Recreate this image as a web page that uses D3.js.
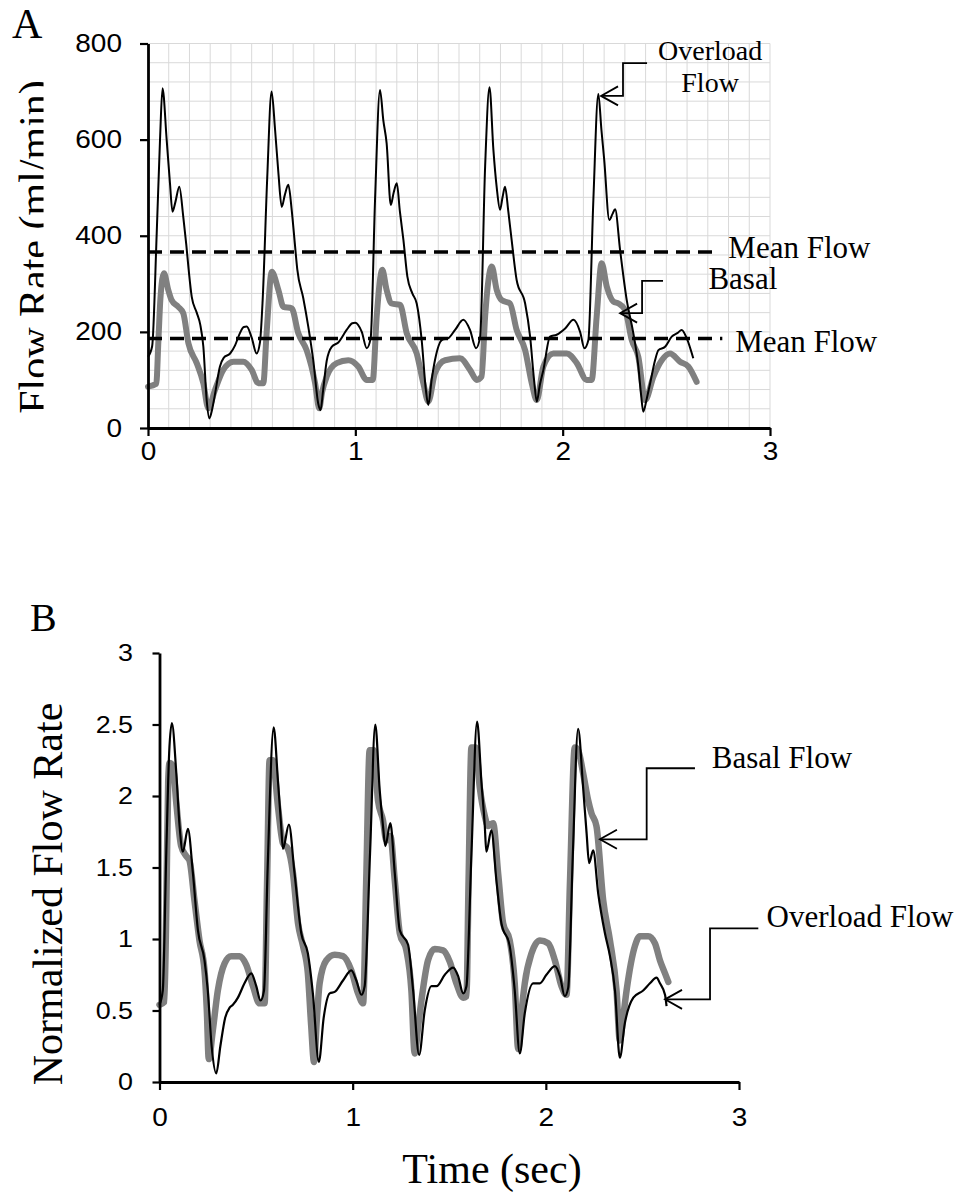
<!DOCTYPE html>
<html>
<head>
<meta charset="utf-8">
<script src="https://cdn.jsdelivr.net/npm/d3@7"></script>
<style>
    body { margin: 0; background: #fff; }
    .serif { font-family: "Liberation Serif", "Times New Roman", serif; fill: #000; }
    .tick text { font-family: "Liberation Sans", Arial, sans-serif; fill: #000; }
</style>
</head>
<body>
<script>
// ---- data: [time (sec), value] ----

// Panel A: absolute flow rate (ml/min)
var overloadA = [
    [0.000,148],[0.020,170],[0.042,405],[0.058,600],[0.070,707],[0.090,600],[0.106,509],[0.118,450],
    [0.132,470],[0.151,502],[0.170,440],[0.185,380],[0.196,330],[0.211,273],[0.235,240],[0.252,215],
    [0.267,169],[0.283,58],[0.296,20],[0.310,40],[0.323,70],[0.347,128],[0.365,146],[0.396,155],
    [0.420,172],[0.444,198],[0.462,210],[0.476,211],[0.500,188],[0.524,155],[0.540,178],[0.553,266],
    [0.575,520],[0.596,700],
    [0.613,620],[0.629,530],[0.645,460],[0.660,485],[0.677,506],[0.693,454],[0.709,380],[0.720,330],
    [0.749,270],[0.773,211],[0.797,141],[0.821,51],[0.832,37],[0.845,80],[0.862,140],[0.886,169],
    [0.918,178],[0.958,204],[0.985,218],[0.999,219],[1.031,200],[1.055,166],[1.074,187],[1.095,474],
    [1.119,703],
    [1.135,640],[1.151,592],[1.171,464],[1.185,490],[1.200,509],[1.215,450],[1.232,391],[1.251,315],
    [1.275,280],[1.296,259],[1.320,183],[1.340,80],[1.352,48],[1.368,100],[1.384,141],[1.417,183],
    [1.449,187],[1.481,204],[1.521,225],[1.553,204],[1.582,166],[1.602,190],[1.626,544],[1.647,709],
    [1.666,578],[1.682,500],[1.698,454],[1.710,480],[1.722,502],[1.738,450],[1.754,391],[1.778,308],
    [1.819,259],[1.843,190],[1.862,100],[1.875,55],[1.890,90],[1.907,121],[1.939,190],[1.971,194],
    [2.012,207],[2.052,225],[2.084,200],[2.105,166],[2.124,183],[2.148,474],[2.172,695],
    [2.187,620],[2.200,560],[2.225,433],[2.240,445],[2.253,455],[2.277,370],[2.309,266],[2.341,197],
    [2.365,128],[2.378,70],[2.389,34],[2.405,60],[2.422,93],[2.445,140],[2.462,162],[2.494,169],
    [2.526,190],[2.555,198],[2.574,204],[2.598,187],[2.630,145]
];

var basalA = [
    [0.000,86],[0.040,92],[0.050,180],[0.060,270],[0.077,322],[0.098,287],[0.114,266],[0.146,252],
    [0.170,239],[0.195,176],[0.235,135],[0.267,93],[0.291,41],[0.323,79],[0.363,121],[0.412,138],
    [0.460,138],[0.500,121],[0.532,93],[0.556,93],[0.572,197],[0.597,325],
    [0.629,287],[0.653,252],[0.693,249],[0.725,197],[0.765,162],[0.806,93],[0.826,41],[0.840,75],
    [0.862,107],[0.910,135],[0.966,141],[1.014,128],[1.055,100],[1.084,100],[1.103,232],[1.130,329],
    [1.151,287],[1.175,259],[1.216,256],[1.248,197],[1.296,155],[1.328,93],[1.352,55],[1.384,114],
    [1.433,141],[1.505,145],[1.553,121],[1.586,100],[1.609,107],[1.626,232],[1.658,336],
    [1.682,287],[1.706,266],[1.746,259],[1.778,204],[1.819,162],[1.851,93],[1.875,58],[1.907,128],
    [1.955,155],[2.020,155],[2.068,135],[2.116,100],[2.140,100],[2.164,232],[2.188,343],
    [2.213,294],[2.245,263],[2.269,259],[2.301,246],[2.333,183],[2.365,148],[2.398,58],[2.438,107],
    [2.478,141],[2.518,155],[2.566,138],[2.606,128],[2.646,96]
];

// mean flow levels (ml/min): overload, basal
var meanFlows = [366, 186];

// Panel B: normalized flow rate
var overloadB = [
    [0.000,0.54],[0.017,0.64],[0.035,1.60],[0.050,2.30],[0.064,2.51],[0.087,2.16],[0.104,1.79],
    [0.121,1.61],[0.147,1.77],[0.173,1.46],[0.199,1.06],[0.233,0.85],[0.250,0.64],[0.270,0.25],
    [0.294,0.06],[0.315,0.25],[0.340,0.45],[0.363,0.52],[0.380,0.54],[0.406,0.59],[0.440,0.69],
    [0.475,0.76],[0.501,0.67],[0.523,0.57],[0.541,0.64],[0.560,1.50],[0.591,2.48],
    [0.613,2.11],[0.630,1.79],[0.639,1.63],[0.670,1.80],[0.699,1.46],[0.734,1.04],[0.768,0.90],
    [0.794,0.62],[0.825,0.14],[0.850,0.45],[0.881,0.62],[0.907,0.63],[0.950,0.71],[0.993,0.78],
    [1.019,0.71],[1.045,0.61],[1.062,0.67],[1.090,1.60],[1.117,2.50],
    [1.140,2.04],[1.157,1.79],[1.169,1.65],[1.195,1.81],[1.218,1.46],[1.244,1.06],[1.287,0.96],
    [1.313,0.64],[1.344,0.19],[1.373,0.50],[1.408,0.67],[1.434,0.67],[1.477,0.75],[1.520,0.80],
    [1.546,0.74],[1.572,0.62],[1.589,0.67],[1.615,1.60],[1.644,2.52],
    [1.667,2.09],[1.684,1.79],[1.692,1.61],[1.718,1.76],[1.744,1.41],[1.770,1.11],[1.813,0.95],
    [1.839,0.64],[1.865,0.20],[1.891,0.48],[1.934,0.69],[1.969,0.69],[2.003,0.75],[2.047,0.81],
    [2.073,0.74],[2.098,0.60],[2.116,0.66],[2.140,1.60],[2.167,2.47],
    [2.193,2.06],[2.211,1.74],[2.224,1.53],[2.245,1.62],[2.271,1.32],[2.306,1.04],[2.332,0.88],
    [2.358,0.64],[2.383,0.17],[2.409,0.41],[2.453,0.59],[2.504,0.64],[2.539,0.69],[2.573,0.73],
    [2.591,0.69],[2.617,0.61],[2.625,0.53]
];

var basalB = [
    [0.000,0.54],[0.025,0.56],[0.035,1.20],[0.045,2.10],[0.052,2.23],[0.069,2.21],[0.087,1.95],
    [0.112,1.65],[0.138,1.58],[0.155,1.55],[0.181,1.27],[0.207,0.99],[0.233,0.78],[0.245,0.50],
    [0.255,0.16],[0.275,0.35],[0.302,0.64],[0.337,0.83],[0.371,0.88],[0.415,0.88],[0.449,0.82],
    [0.484,0.67],[0.518,0.55],[0.544,0.55],[0.557,1.40],[0.570,2.25],[0.587,2.25],
    [0.613,1.93],[0.639,1.67],[0.665,1.63],[0.691,1.46],[0.717,1.11],[0.743,0.95],[0.768,0.76],
    [0.785,0.40],[0.800,0.14],[0.815,0.45],[0.829,0.69],[0.863,0.85],[0.907,0.89],[0.950,0.88],
    [0.993,0.78],[1.028,0.62],[1.054,0.55],[1.070,1.40],[1.088,2.32],[1.109,2.32],
    [1.131,1.97],[1.157,1.83],[1.174,1.69],[1.195,1.72],[1.218,1.41],[1.244,1.04],[1.278,0.92],
    [1.304,0.64],[1.321,0.20],[1.340,0.40],[1.356,0.57],[1.390,0.85],[1.425,0.93],[1.468,0.92],
    [1.503,0.84],[1.537,0.69],[1.572,0.59],[1.589,0.60],[1.600,1.40],[1.615,2.34],[1.637,2.34],
    [1.658,2.06],[1.684,1.86],[1.701,1.79],[1.727,1.81],[1.753,1.46],[1.779,1.11],[1.813,0.99],
    [1.839,0.69],[1.857,0.23],[1.875,0.50],[1.891,0.69],[1.926,0.90],[1.969,0.99],[2.012,0.97],
    [2.047,0.85],[2.081,0.67],[2.107,0.61],[2.125,1.40],[2.150,2.34],[2.167,2.32],
    [2.193,2.16],[2.219,1.97],[2.236,1.88],[2.262,1.79],[2.297,1.27],[2.332,0.99],[2.366,0.64],
    [2.383,0.29],[2.400,0.45],[2.418,0.64],[2.461,0.95],[2.487,1.02],[2.530,1.02],[2.565,0.97],
    [2.591,0.85],[2.617,0.76],[2.634,0.70]
];

// tick labels
var timeTicks = [0, 1, 2, 3];
var flowTicks = [0, 200, 400, 600, 800];
var normTicks = [0, 0.5, 1, 1.5, 2, 2.5, 3];

window.onload = function(){

    var W = 965, H = 1195;
    var sx = 1.12; // tick labels are drawn a little wide in the original

    var svg = d3.select("body")
        .append("svg")
        .attr("width", W)
        .attr("height", H)
        .attr("class", "container");

    var line = function(xs, ys){
        return d3.line()
            .x(function(d){ return xs(d[0]); })
            .y(function(d){ return ys(d[1]); })
            .curve(d3.curveMonotoneX);
    };

    // elbow callout with an open arrow head
    function callout(g, xs, ys, tip, elbowT, topV, endT){
        var pts = [[endT, topV], [elbowT, topV], [elbowT, tip[1]], [tip[0], tip[1]]];
        g.append("path")
            .attr("d", d3.line().x(function(d){ return xs(d[0]); }).y(function(d){ return ys(d[1]); })(pts))
            .style("fill", "none")
            .style("stroke", "#000")
            .style("stroke-width", 1.8);
        var tx = xs(tip[0]), ty = ys(tip[1]);
        g.append("path")
            .attr("d", "M" + (tx + 17) + "," + (ty - 9.5) + "L" + tx + "," + ty + "L" + (tx + 17) + "," + (ty + 9.5))
            .style("fill", "none")
            .style("stroke", "#000")
            .style("stroke-width", 1.8);
    }

    function label(g, xp, yp, txt, size, anchor){
        return g.append("text")
            .attr("class", "serif")
            .attr("x", xp)
            .attr("y", yp)
            .attr("text-anchor", anchor || "start")
            .style("font-size", size + "px")
            .text(txt);
    }

    function styleAxis(ax, fs){
        ax.select(".domain").style("stroke", "#000").style("stroke-width", 2.8);
        ax.selectAll(".tick line").style("stroke", "#000").style("stroke-width", 2.2);
        ax.selectAll(".tick text").style("font-size", fs + "px");
    }

    // ================= Panel A =================
    var xA = d3.scaleLinear().domain([0, 3]).range([148, 770]);
    var yA = d3.scaleLinear().domain([0, 800]).range([428, 43.5]);
    var gA = svg.append("g").attr("class", "panelA");

    // grid
    gA.append("g").attr("class", "gridV")
        .selectAll("line")
        .data(xA.ticks(30).filter(function(d){ return d > 0; }))
        .enter().append("line")
        .attr("x1", function(d){ return xA(d); })
        .attr("x2", function(d){ return xA(d); })
        .attr("y1", yA(0))
        .attr("y2", yA(800))
        .style("stroke", "#d9d9d9")
        .style("stroke-width", 1);

    gA.append("g").attr("class", "gridH")
        .selectAll("line")
        .data(d3.range(40, 801, 40))
        .enter().append("line")
        .attr("x1", xA(0))
        .attr("x2", xA(3))
        .attr("y1", function(d){ return yA(d); })
        .attr("y2", function(d){ return yA(d); })
        .style("stroke", "#d9d9d9")
        .style("stroke-width", 1);

    // curves
    gA.append("path")
        .datum(basalA)
        .attr("d", line(xA, yA))
        .style("fill", "none")
        .style("stroke", "#808080")
        .style("stroke-width", 6)
        .style("stroke-linejoin", "round")
        .style("stroke-linecap", "round");

    gA.append("path")
        .datum(overloadA)
        .attr("d", line(xA, yA))
        .style("fill", "none")
        .style("stroke", "#000")
        .style("stroke-width", 2)
        .style("stroke-linejoin", "round");

    // mean flow dashed lines
    var meanEnds = [2.726, 2.77];
    gA.selectAll(".mean")
        .data(meanFlows)
        .enter().append("line")
        .attr("class", "mean")
        .attr("x1", xA(0))
        .attr("x2", function(d, i){ return xA(meanEnds[i]); })
        .attr("y1", function(d){ return yA(d); })
        .attr("y2", function(d){ return yA(d); })
        .style("stroke", "#000")
        .style("stroke-width", 3.5)
        .style("stroke-dasharray", "14,8");

    // axes
    var axAy = gA.append("g")
        .attr("transform", "translate(" + xA(0) + ",0)")
        .call(d3.axisLeft(yA).tickValues(flowTicks).tickSize(8).tickSizeOuter(0).tickPadding(18).tickFormat(d3.format("d")));
    styleAxis(axAy, 25);
    axAy.selectAll(".tick text").attr("x", -26 / sx).attr("transform", "scale(" + sx + ",1)");

    var axAx = gA.append("g")
        .attr("transform", "translate(0," + yA(0) + ")")
        .call(d3.axisBottom(xA).tickValues(timeTicks).tickSize(8).tickSizeOuter(0).tickPadding(6).tickFormat(d3.format("d")));
    styleAxis(axAx, 25);
    axAx.selectAll(".tick text").attr("transform", "scale(" + sx + ",1)");

    // y title (cut on its right side as in the original)
    svg.append("clipPath").attr("id", "clipTitleA")
        .append("rect").attr("x", 0).attr("y", 0).attr("width", 43.5).attr("height", 460);
    gA.append("g").attr("clip-path", "url(#clipTitleA)")
        .append("text")
        .attr("class", "serif")
        .attr("text-anchor", "middle")
        .attr("transform", "translate(48,247) rotate(-90)")
        .style("font-size", "42px")
        .text("Flow Rate (ml/min)");

    label(gA, 12, 38, "A", 42);

    // annotations
    callout(gA, xA, yA, [2.185, 691], 2.291, 759, 2.407);
    callout(gA, xA, yA, [2.277, 239], 2.383, 306, 2.484);

    // two-line label, kept tight so the lines do not collide
    label(gA, xA(2.711), yA(766), "Overload", 28, "middle");
    label(gA, xA(2.711), yA(700), "Flow", 28, "middle");

    label(gA, xA(2.799), yA(353), "Mean Flow", 31);
    label(gA, xA(2.703), yA(289), "Basal", 31);
    label(gA, xA(2.832), yA(159), "Mean Flow", 31);

    // ================= Panel B =================
    var xB = d3.scaleLinear().domain([0, 3]).range([159.5, 739]);
    var yB = d3.scaleLinear().domain([0, 3]).range([1082, 653]);
    var gB = svg.append("g").attr("class", "panelB");

    gB.append("path")
        .datum(basalB)
        .attr("d", line(xB, yB))
        .style("fill", "none")
        .style("stroke", "#808080")
        .style("stroke-width", 6.5)
        .style("stroke-linejoin", "round")
        .style("stroke-linecap", "round");

    gB.append("path")
        .datum(overloadB)
        .attr("d", line(xB, yB))
        .style("fill", "none")
        .style("stroke", "#000")
        .style("stroke-width", 2.2)
        .style("stroke-linejoin", "round");

    var axBy = gB.append("g")
        .attr("transform", "translate(" + xB(0) + ",0)")
        .call(d3.axisLeft(yB).tickValues(normTicks).tickSize(7).tickSizeOuter(0).tickPadding(19.5).tickFormat(d3.format("")));
    styleAxis(axBy, 24);
    axBy.selectAll(".tick text").attr("x", -26.5 / sx).attr("transform", "scale(" + sx + ",1)");

    var axBx = gB.append("g")
        .attr("transform", "translate(0," + yB(0) + ")")
        .call(d3.axisBottom(xB).tickValues(timeTicks).tickSize(8).tickSizeOuter(0).tickPadding(18).tickFormat(d3.format("d")));
    styleAxis(axBx, 25);
    axBx.selectAll(".tick text").attr("transform", "scale(" + sx + ",1)");

    gB.append("text")
        .attr("class", "serif")
        .attr("text-anchor", "middle")
        .attr("transform", "translate(61.7,894) rotate(-90)")
        .style("font-size", "42px")
        .text("Normalized Flow Rate");

    label(gB, 492, 1183, "Time (sec)", 42, "middle");
    label(gB, 30, 631, "B", 40);

    callout(gB, xB, yB, [2.280, 1.697], 2.522, 2.194, 2.772);
    callout(gB, xB, yB, [2.617, 0.578], 2.850, 1.075, 3.100);
    label(gB, xB(2.859), yB(2.194), "Basal Flow", 31);
    label(gB, xB(3.143), yB(1.086), "Overload Flow", 31);
};
</script>
</body>
</html>
